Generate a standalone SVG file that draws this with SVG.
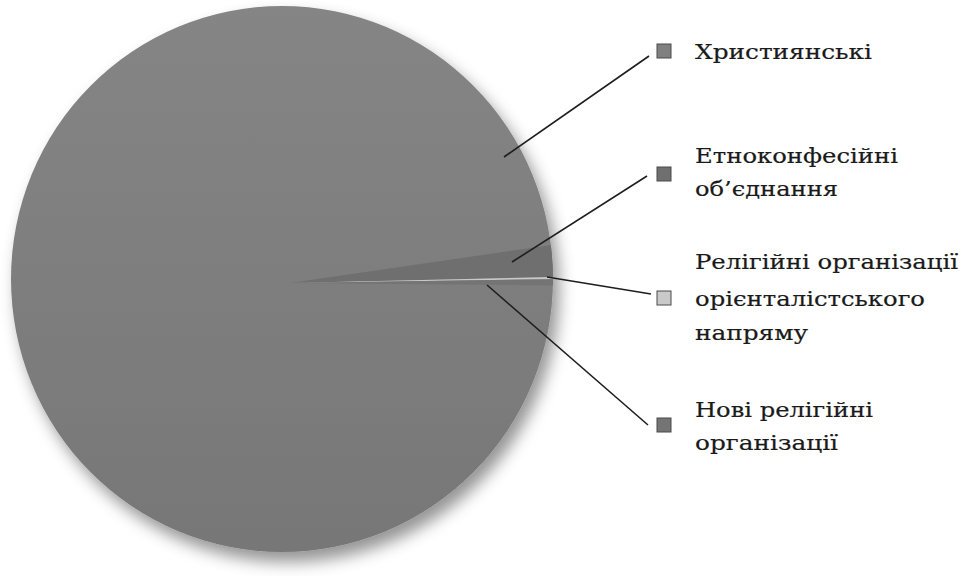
<svg xmlns="http://www.w3.org/2000/svg" width="965" height="576" viewBox="0 0 965 576">
  <defs>
    <linearGradient id="pieGrad" x1="0" y1="0" x2="0" y2="1">
      <stop offset="0" stop-color="#858585"/>
      <stop offset="1" stop-color="#777777"/>
    </linearGradient>
    <filter id="shadow" x="-10%" y="-10%" width="125%" height="125%">
      <feDropShadow dx="6" dy="10" stdDeviation="8" flood-color="#000" flood-opacity="0.42"/>
    </filter>
    <clipPath id="pieClip">
      <ellipse cx="282" cy="279" rx="271" ry="273"/>
    </clipPath>
    <style>
      .lbl { font-family: "DejaVu Serif", "Liberation Serif", serif; font-size: 21px; fill: #1a1a1a; stroke: #1a1a1a; stroke-width: 0.2; }
      .lead { stroke: #1e1e1e; stroke-width: 1.6; fill: none; }
      .mk { stroke: #4a4a4a; stroke-width: 1; }
    </style>
  </defs>
  <rect width="965" height="576" fill="#ffffff"/>

  <g id="pie">
    <ellipse cx="282" cy="279" rx="271" ry="273" fill="url(#pieGrad)" filter="url(#shadow)"/>
    <g clip-path="url(#pieClip)">
      <polygon id="slice-etno" points="290,283 620,235 620,275.4" fill="#6f6f6f"/>
      <polygon id="slice-orient" points="290,283 620,275.4 620,278.2" fill="#c9c9c9"/>
      <polygon id="slice-novi" points="290,283 620,278.2 620,286" fill="#747474"/>
    </g>
  </g>

  <g id="connectors">
    <line class="lead" x1="504" y1="157" x2="649" y2="56"/>
    <line class="lead" x1="512" y1="262" x2="647" y2="176"/>
    <line class="lead" x1="547" y1="277" x2="651" y2="294"/>
    <line class="lead" x1="487" y1="285" x2="648" y2="425"/>
  </g>

  <g id="legend-christian">
    <rect class="mk" x="657" y="44" width="14" height="14" fill="#808080"/>
    <text class="lbl" x="695" y="59" textLength="177" lengthAdjust="spacingAndGlyphs">Християнські</text>
  </g>
  <g id="legend-etno">
    <rect class="mk" x="657" y="167" width="14" height="14" fill="#6f6f6f"/>
    <text class="lbl" x="695" y="163" textLength="203" lengthAdjust="spacingAndGlyphs">Етноконфесійні</text>
    <text class="lbl" x="695" y="196" textLength="143" lengthAdjust="spacingAndGlyphs">об’єднання</text>
  </g>
  <g id="legend-orient">
    <rect class="mk" x="657" y="291" width="14" height="14" fill="#c9c9c9" stroke="#9a9a9a"/>
    <text class="lbl" x="695" y="269" textLength="263" lengthAdjust="spacingAndGlyphs">Релігійні організації</text>
    <text class="lbl" x="695" y="306" textLength="230" lengthAdjust="spacingAndGlyphs">орієнталістського</text>
    <text class="lbl" x="695" y="340" textLength="113" lengthAdjust="spacingAndGlyphs">напряму</text>
  </g>
  <g id="legend-novi">
    <rect class="mk" x="657" y="418" width="14" height="14" fill="#747474"/>
    <text class="lbl" x="695" y="417" textLength="178" lengthAdjust="spacingAndGlyphs">Нові релігійні</text>
    <text class="lbl" x="695" y="450" textLength="143" lengthAdjust="spacingAndGlyphs">організації</text>
  </g>
</svg>
